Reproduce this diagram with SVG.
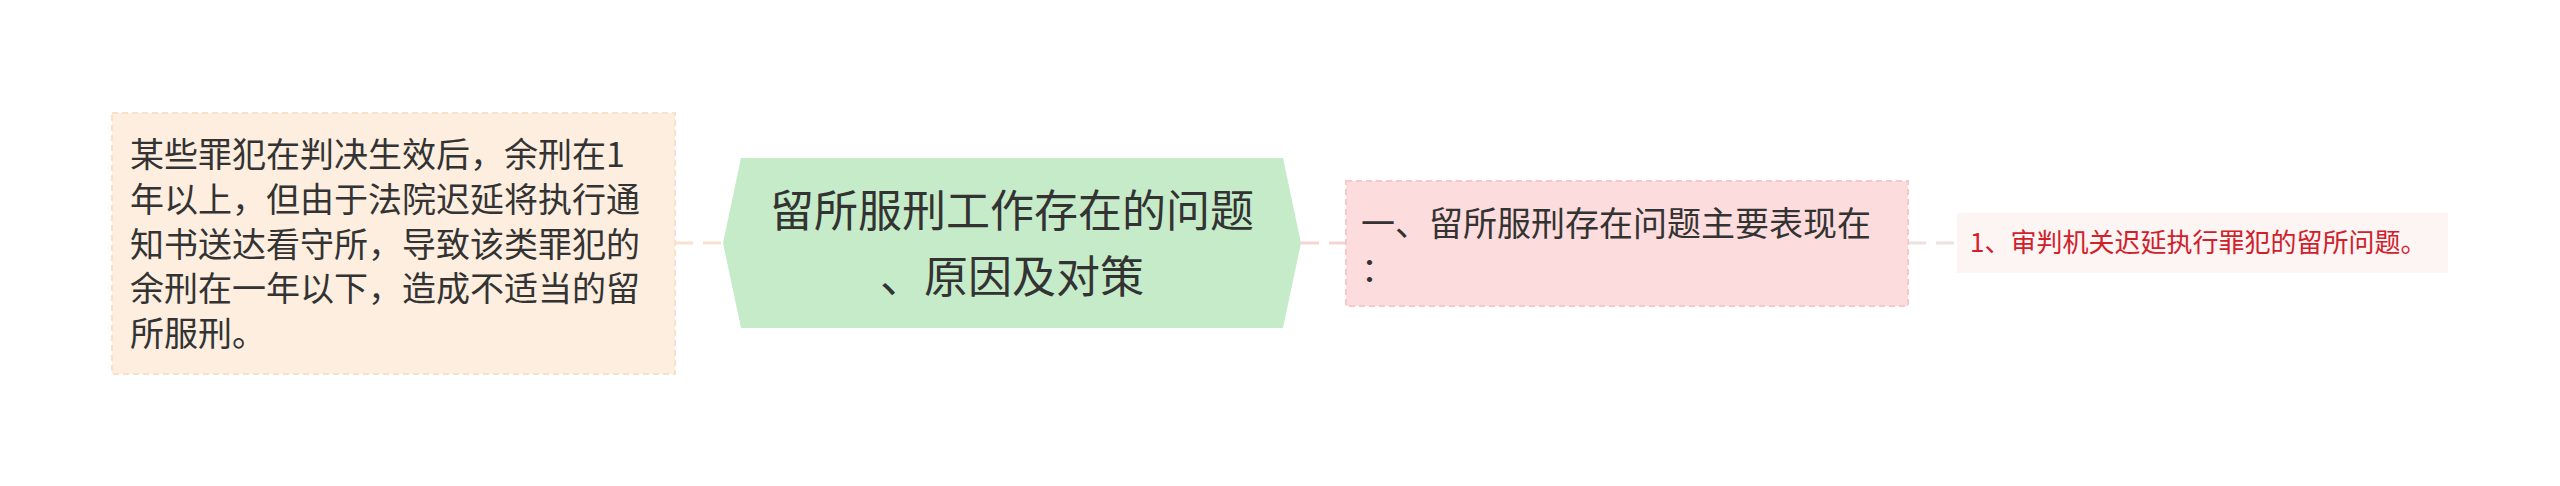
<svg xmlns="http://www.w3.org/2000/svg" width="2560" height="486" viewBox="0 0 2560 486">
<style>
text{font-family:"Noto Sans CJK SC","Noto Sans",sans-serif;}
.t{font-size:34px;fill:#333333;}
.c{font-size:44px;fill:#333333;text-anchor:middle;}
.r{font-size:26px;fill:#d0202a;}
.conn{fill:none;stroke-width:3;stroke-dasharray:18 10;}
</style>
<rect width="2560" height="486" fill="#ffffff"/>
<g id="connectors">
<line class="conn" x1="675" y1="243" x2="723" y2="243" stroke="#fbe1cc"/>
<line class="conn" x1="1301" y1="243" x2="1346" y2="243" stroke="#f9d3d3"/>
<line class="conn" x1="1908" y1="243" x2="1957" y2="243" stroke="#ece0e0"/>
</g>
<g id="node-left">
<rect x="112" y="113" width="563" height="261" fill="#fdeedf" stroke="#f9e0c8" stroke-width="2" stroke-dasharray="6 4"/>
<text class="t" x="130" y="167">某些罪犯在判决生效后，余刑在1</text>
<text class="t" x="130" y="212">年以上，但由于法院迟延将执行通</text>
<text class="t" x="130" y="257">知书送达看守所，导致该类罪犯的</text>
<text class="t" x="130" y="301">余刑在一年以下，造成不适当的留</text>
<text class="t" x="130" y="346">所服刑。</text>
</g>
<g id="node-center">
<polygon points="723,243 741,158 1283,158 1301,243 1283,328 741,328" fill="#c6ebc9"/>
<text class="c" x="1012" y="227">留所服刑工作存在的问题</text>
<text class="c" x="1012" y="293">、原因及对策</text>
</g>
<g id="node-right1">
<rect x="1346" y="181" width="562" height="125" fill="#fcdcdc" stroke="#f6c8c8" stroke-width="2" stroke-dasharray="6 4"/>
<text class="t" x="1361" y="236">一、留所服刑存在问题主要表现在</text>
<text class="t" x="1361" y="282">：</text>
</g>
<g id="node-right2">
<rect x="1957" y="213" width="491" height="60" fill="#fdf4f4"/>
<text class="r" x="1970" y="252">1、审判机关迟延执行罪犯的留所问题。</text>
</g>
</svg>
